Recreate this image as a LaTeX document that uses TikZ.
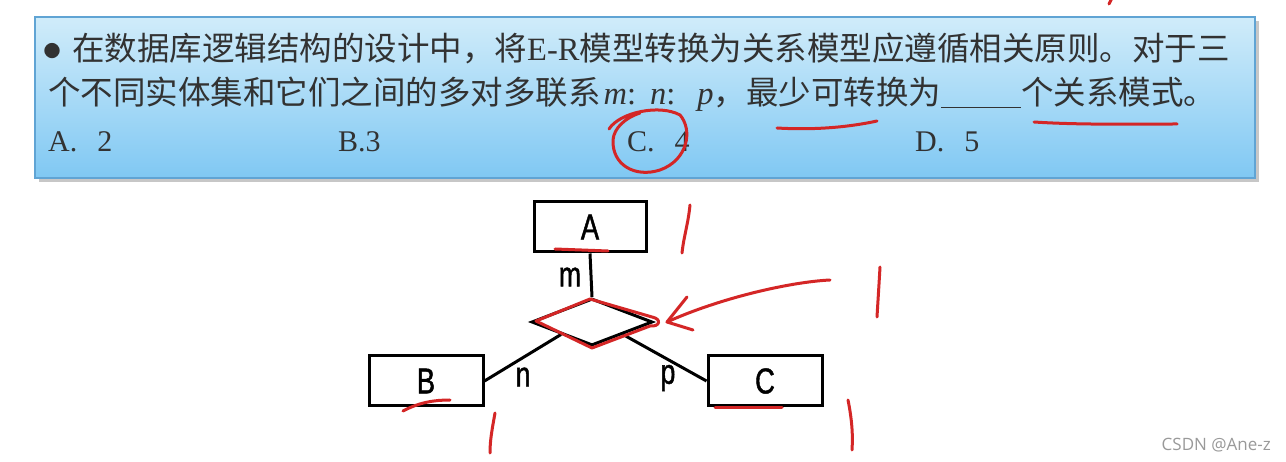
\documentclass[tikz,border=0pt]{standalone}
\usepackage{fontspec}
\setmainfont{Liberation Serif}
\setsansfont{Liberation Sans}
\newfontfamily\cjk{Noto Sans CJK SC}
\newfontfamily\diagfont[FakeStretch=0.76,FakeBold=1.2]{Liberation Sans}
\newfontfamily\wmfont{Open Sans}
\usetikzlibrary{shapes.geometric}

\definecolor{inkred}{RGB}{212,38,38}
\definecolor{boxtop}{RGB}{208,236,250}
\definecolor{boxbottom}{RGB}{128,200,243}
\definecolor{boxedge}{RGB}{96,164,212}
\definecolor{textgray}{RGB}{50,50,50}

\tikzset{
  entity/.style={draw,line width=3pt,minimum width=112pt,minimum height=50pt,
    inner sep=0pt,font=\diagfont\fontsize{36}{36}\selectfont},
  link/.style={line width=3pt},
  card/.style={inner sep=0pt,font=\diagfont\fontsize{35}{35}\selectfont},
  ink/.style={draw=inkred,line width=3pt,line cap=round,line join=round},
  qline/.style={anchor=base west,inner sep=0pt,text=textgray,
    font=\cjk\fontsize{32.5}{32.5}\selectfont},
  option/.style={anchor=base west,inner sep=0pt,text=textgray,
    font=\rmfamily\fontsize{30}{30}\selectfont}
}

\begin{document}
\begin{tikzpicture}[x=1pt,y=-1pt]
            \useasboundingbox (0,0) rectangle (1286,462);
            \fill[white] (0,0) rectangle (1286,462);

            % Drawing question panel
            \fill[black!22] (39,21) rectangle (1259,182);%
            \shadedraw[top color=boxtop,bottom color=boxbottom,draw=boxedge,line width=1.4pt] (35,17) rectangle (1255,178);%

            % Writing question text
            \node[inner sep=0pt,text=textgray,font=\cjk\fontsize{17}{17}\selectfont] (bullet) at (52,51) {●};%
            \node[qline] (line1) at (72,61) {在数据库逻辑结构的设计中，将{\rmfamily E-R}模型转换为关系模型应遵循相关原则。对于三};%
            \node[qline] (line2) at (48,105) {个不同实体集和它们之间的多对多联系\hspace{3pt}{\rmfamily\itshape m}{\rmfamily :}\hspace{14pt}{\rmfamily\itshape n}{\rmfamily :}\hspace{22pt}{\rmfamily\itshape p}，最少可转换为{\rule[-3pt]{80pt}{1.4pt}}个关系模式。};%

            % Writing options
            \node[option] (optA) at (48,152) {A.\hspace{20pt}2};%
            \node[option] (optB) at (338,152) {B.3};%
            \node[option] (optC) at (627,152) {C.\hspace{20pt}4};%
            \node[option] (optD) at (915,152) {D.\hspace{20pt}5};%

            % Drawing entities and relationship
            \node[entity] (entA) at (590,227) {A};%
            \node[entity,minimum width=114pt] (entB) at (426,381) {B};%
            \node[entity,minimum width=114pt] (entC) at (765,381) {C};%
            \node[draw,diamond,line width=3pt,minimum width=121pt,minimum height=47pt,inner sep=0pt] (rel) at (592,322) {};%

            % Drawing links
            \draw[link] (entA.south) -- (rel.north);%
            \draw[link] (rel.south west) -- (entB.east);%
            \draw[link] (rel.south east) -- (entC.west);%

            % Marking cardinalities
            \node[card] (cardm) at (570,277) {m};%
            \node[card] (cardn) at (523,377) {n};%
            \node[card] (cardp) at (668,378) {p};%

            % Drawing red marks on question
            \draw[ink] (1112,-2) -- (1109,4);%
            \draw[ink] (609,129) .. controls (620,112) and (660,104) .. (680,115) .. controls (693,130) and (688,160) .. (660,170) .. controls (635,178) and (612,165) .. (613,140) .. controls (614,128) and (625,118) .. (640,113);%
            \draw[ink] (777,128) .. controls (810,130) and (845,128) .. (877,121);%
            \draw[ink] (1034,122) .. controls (1080,125) and (1130,124) .. (1177,124);%

            % Drawing red marks on diagram
            \draw[ink] (555,249) -- (608,251);%
            \draw[ink] (690,205) .. controls (688,225) and (684,235) .. (682,253);%
            \draw[ink] (880,267) .. controls (879,285) and (878,300) .. (877,317);%
            \draw[ink] (830,280) .. controls (790,282) and (720,298) .. (667,322);%
            \draw[ink] (687,297) -- (667,322) -- (693,330);%
            \draw[ink] (536,321) -- (590,299) -- (652,317) .. controls (662,319) and (660,327) .. (650,326) -- (592,348) -- cycle;%
            \draw[ink] (403,411) .. controls (420,402) and (435,400) .. (450,400);%
            \draw[ink] (715,408) -- (782,408);%
            \draw[ink] (495,413) .. controls (492,430) and (490,440) .. (490,453);%
            \draw[ink] (848,400) .. controls (852,420) and (853,435) .. (852,450);%

            % Writing watermark
            \node[anchor=base east,inner sep=0pt,text=black!40,font=\wmfont\fontsize{17}{17}\selectfont] (mark) at (1271,450) {CSDN @Ane-z};%
\end{tikzpicture}
\end{document}
